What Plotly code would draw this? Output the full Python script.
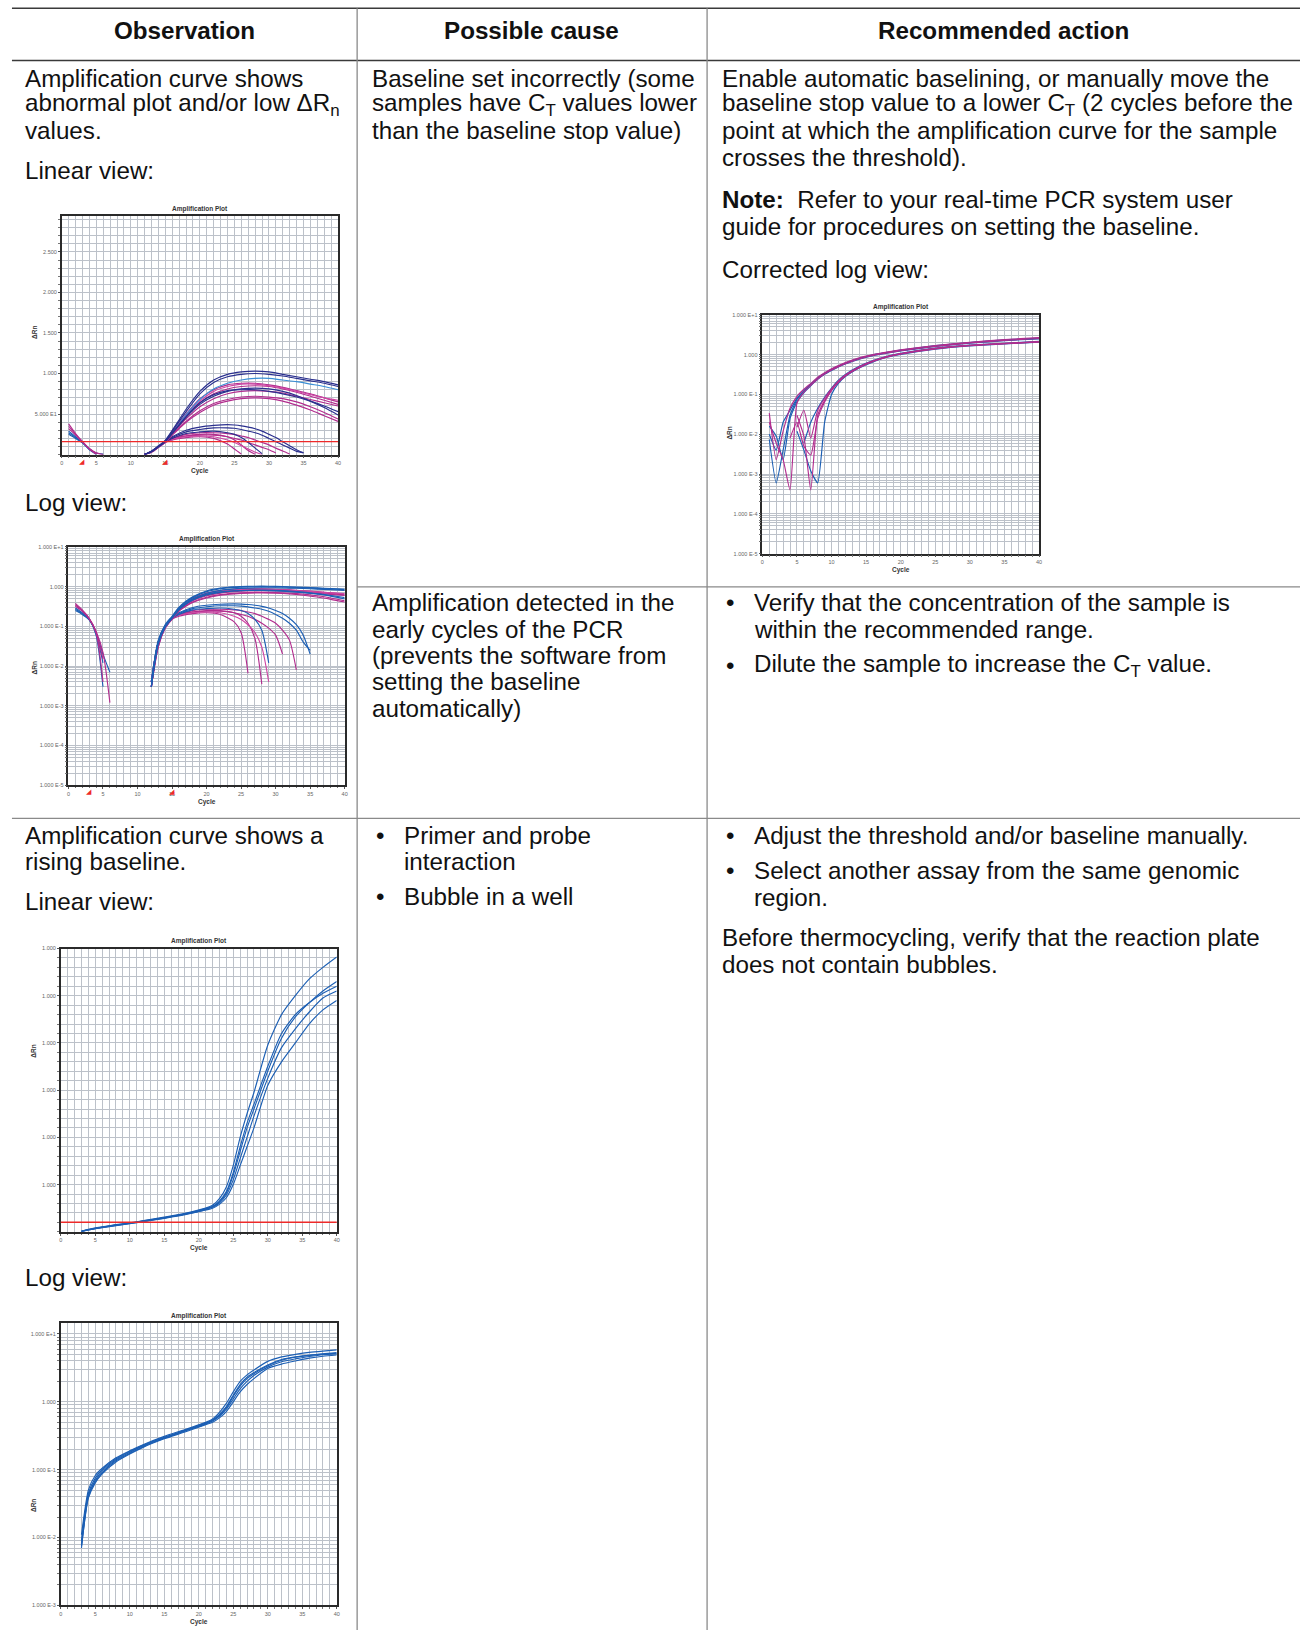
import math
import plotly.graph_objects as go

W, H = 1303, 1633

# ---------------- data ----------------
CYCLE_TICKS = [0, 5, 10, 15, 20, 25, 30, 35, 40]
CYCLE_LABELS = ['0', '5', '10', '15', '20', '25', '30', '35', '40']

LIN1_TICKS = [0.5, 1.0, 1.5, 2.0, 2.5]
LIN1_LABELS = ['5.000 E1', '1.000', '1.500', '2.000', '2.500']

LOG6_TICKS = [1e-5, 1e-4, 1e-3, 1e-2, 1e-1, 1, 10]
LOG6_LABELS = ['1.000 E-5', '1.000 E-4', '1.000 E-3', '1.000 E-2', '1.000 E-1', '1.000', '1.000 E+1']

LIN4_TICKS = [1, 2, 3, 4, 5, 6]
LIN4_LABELS = ['1.000', '1.000', '1.000', '1.000', '1.000', '1.000']

LOG5_TICKS = [1e-3, 1e-2, 1e-1, 1, 10]
LOG5_LABELS = ['1.000 E-3', '1.000 E-2', '1.000 E-1', '1.000', '1.000 E+1']

THRESHOLD_12 = 0.16
THRESHOLD_3 = 0.158
THRESHOLD_45 = 0.2
BASELINE_MARKS = [3, 15]

# charts 1 & 2 : early descending curves
EARLY_CYCLES = [1, 2, 3, 4, 5, 6]
early_blue_1 = [0.27, 0.21, 0.15, 0.065, 0.012]
early_blue_2 = [0.25, 0.20, 0.145, 0.07, 0.02, 0.007]
early_blue_3 = [0.29, 0.22, 0.15, 0.06, 0.003]
early_mag_1 = [0.35, 0.25, 0.16, 0.075, 0.022, 0.0012]
early_mag_2 = [0.32, 0.24, 0.155, 0.07, 0.015]
early_mag_3 = [0.38, 0.26, 0.16, 0.07, 0.004]

# charts 1 & 2 : large amplification curves
RISE_CYCLES = [12, 13, 14, 15, 16, 17, 18, 20, 22, 24, 26, 28, 30, 32, 34, 36, 38, 40]
rise_navy_1 = [0.004, 0.045, 0.11, 0.18, 0.30, 0.43, 0.56, 0.78, 0.92, 0.99, 1.02, 1.03, 1.02, 0.99, 0.96, 0.93, 0.90, 0.86]
rise_navy_2 = [0.003, 0.04, 0.10, 0.17, 0.29, 0.41, 0.53, 0.75, 0.89, 0.96, 0.99, 1.00, 0.99, 0.97, 0.94, 0.91, 0.88, 0.84]
rise_light_1 = [0.003, 0.038, 0.10, 0.165, 0.27, 0.38, 0.49, 0.68, 0.81, 0.88, 0.92, 0.94, 0.94, 0.92, 0.90, 0.87, 0.84, 0.80]
rise_navy_3 = [0.003, 0.035, 0.095, 0.16, 0.26, 0.36, 0.46, 0.62, 0.72, 0.78, 0.81, 0.82, 0.81, 0.78, 0.73, 0.66, 0.58, 0.49]
rise_navy_4 = [0.004, 0.04, 0.10, 0.165, 0.27, 0.37, 0.47, 0.64, 0.74, 0.79, 0.80, 0.80, 0.78, 0.75, 0.71, 0.66, 0.60, 0.53]
rise_mag_1 = [0.004, 0.04, 0.10, 0.17, 0.28, 0.39, 0.50, 0.69, 0.80, 0.86, 0.88, 0.88, 0.86, 0.83, 0.79, 0.75, 0.70, 0.65]
rise_mag_2 = [0.003, 0.038, 0.10, 0.165, 0.27, 0.37, 0.47, 0.64, 0.75, 0.81, 0.84, 0.85, 0.84, 0.81, 0.77, 0.72, 0.67, 0.62]
rise_mag_3 = [0.003, 0.035, 0.095, 0.16, 0.26, 0.35, 0.44, 0.59, 0.69, 0.75, 0.78, 0.79, 0.78, 0.76, 0.72, 0.68, 0.64, 0.60]
rise_mag_4 = [0.003, 0.033, 0.09, 0.155, 0.25, 0.33, 0.41, 0.54, 0.63, 0.68, 0.71, 0.72, 0.71, 0.69, 0.65, 0.59, 0.52, 0.44]
rise_mag_5 = [0.003, 0.03, 0.09, 0.15, 0.24, 0.32, 0.40, 0.52, 0.61, 0.66, 0.69, 0.70, 0.69, 0.66, 0.61, 0.55, 0.48, 0.41]
rise_pink_1 = [0.004, 0.04, 0.10, 0.165, 0.27, 0.38, 0.48, 0.66, 0.78, 0.84, 0.87, 0.87, 0.85, 0.82, 0.78, 0.74, 0.70, 0.67]

# charts 1 & 2 : low humped curves that fall back to zero
HUMP_CYCLES = [12, 13, 14, 15, 16, 18, 20, 22, 24, 25, 26, 27, 28, 29, 30, 31, 32, 33, 34, 35]
hump_navy_1 = [0.004, 0.04, 0.10, 0.165, 0.22, 0.30, 0.34, 0.36, 0.37, 0.365, 0.355, 0.34, 0.32, 0.29, 0.25, 0.21, 0.16, 0.11, 0.06, 0.02]
hump_navy_2 = [0.004, 0.04, 0.10, 0.16, 0.21, 0.28, 0.31, 0.33, 0.33, 0.325, 0.31, 0.29, 0.27, 0.24, 0.20, 0.16, 0.12, 0.08, 0.04, 0.025]
hump_navy_3 = [0.003, 0.035, 0.095, 0.16, 0.20, 0.26, 0.28, 0.29, 0.27, 0.25, 0.21, 0.15, 0.08, 0.012]
hump_mag_1 = [0.004, 0.04, 0.10, 0.16, 0.20, 0.25, 0.27, 0.27, 0.26, 0.25, 0.23, 0.21, 0.18, 0.15, 0.12, 0.08, 0.045, 0.008]
hump_mag_2 = [0.003, 0.035, 0.095, 0.155, 0.19, 0.23, 0.25, 0.25, 0.22, 0.18, 0.12, 0.05, 0.0035]
hump_mag_3 = [0.003, 0.03, 0.09, 0.15, 0.18, 0.21, 0.22, 0.20, 0.13, 0.07, 0.0066]
hump_mag_4 = [0.004, 0.04, 0.10, 0.16, 0.20, 0.23, 0.24, 0.24, 0.22, 0.20, 0.18, 0.15, 0.12, 0.09, 0.06, 0.02]
hump_pink_1 = [0.003, 0.035, 0.095, 0.155, 0.19, 0.22, 0.23, 0.22, 0.18, 0.15, 0.11, 0.07, 0.03, 0.004]

# chart 3 : corrected log view
CORR_CYCLES = [1, 2, 3, 4, 5, 6, 7, 8, 9, 10, 11, 12, 14, 16, 18, 20, 25, 30, 35, 40]
corr_blue_1 = [0.0074, 0.0006, 0.004, 0.03, 0.075, 0.12, 0.18, 0.25, 0.33, 0.42, 0.51, 0.61, 0.80, 0.98, 1.13, 1.28, 1.65, 2.0, 2.3, 2.6]
corr_mag_1 = [0.034, 0.0023, 0.012, 0.045, 0.09, 0.135, 0.19, 0.27, 0.35, 0.44, 0.53, 0.63, 0.83, 1.0, 1.16, 1.32, 1.7, 2.05, 2.4, 2.7]
corr_blue_2 = [0.016, 0.009, 0.0023, 0.025, 0.065, 0.11, 0.165, 0.24, 0.32, 0.40, 0.49, 0.58, 0.77, 0.94, 1.09, 1.24, 1.6, 1.95, 2.25, 2.5]
corr_mag_2 = [0.02, 0.006, 0.0023, 0.0004, 0.06, 0.115, 0.17, 0.245, 0.325, 0.41, 0.50, 0.59, 0.78, 0.95, 1.10, 1.25, 1.62, 1.97, 2.28, 2.55]
corr_blue_3 = [0.01, 0.004, 0.02, 0.04, 0.08, 0.125, 0.18, 0.26, 0.34, 0.43, 0.52, 0.62, 0.81, 0.99, 1.14, 1.30, 1.68, 2.02, 2.35, 2.62]
late_mag_1 = [None, None, None, None, 0.03, 0.009, 0.0004, 0.03, 0.07, 0.13, 0.21, 0.30, 0.48, 0.68, 0.88, 1.05, 1.42, 1.70, 1.90, 2.10]
late_blue_1 = [None, None, None, None, 0.012, 0.004, 0.0012, 0.0006, 0.02, 0.10, 0.19, 0.28, 0.46, 0.66, 0.86, 1.02, 1.38, 1.66, 1.86, 2.05]
late_mag_2 = [None, None, None, 0.008, 0.02, 0.005, 0.003, 0.025, 0.065, 0.125, 0.20, 0.29, 0.47, 0.67, 0.87, 1.04, 1.40, 1.68, 1.88, 2.08]
late_mag_3 = [None, None, None, None, 0.015, 0.04, 0.008, 0.04, 0.08, 0.14, 0.22, 0.31, 0.50, 0.70, 0.90, 1.07, 1.45, 1.72, 1.92, 2.12]
late_blue_2 = [None, None, None, None, None, 0.006, 0.02, 0.045, 0.085, 0.145, 0.23, 0.32, 0.51, 0.71, 0.91, 1.08, 1.46, 1.74, 1.94, 2.15]

# charts 4 & 5 : rising baseline
DRIFT_CYCLES = [3, 4, 5, 6, 8, 10, 12, 15, 18, 21, 22, 23, 24, 25, 26, 27, 28, 30, 32, 34, 36, 38, 40]
drift_1 = [0.011, 0.05, 0.082, 0.105, 0.15, 0.19, 0.235, 0.31, 0.39, 0.50, 0.56, 0.70, 0.95, 1.40, 2.00, 2.50, 2.95, 3.95, 4.60, 5.00, 5.35, 5.60, 5.82]
drift_2 = [0.009, 0.045, 0.075, 0.10, 0.145, 0.185, 0.23, 0.30, 0.38, 0.49, 0.54, 0.65, 0.85, 1.25, 1.80, 2.30, 2.70, 3.50, 4.20, 4.60, 4.85, 5.05, 5.20]
drift_3 = [0.008, 0.042, 0.07, 0.095, 0.14, 0.18, 0.225, 0.295, 0.375, 0.48, 0.53, 0.63, 0.82, 1.20, 1.70, 2.20, 2.60, 3.40, 4.10, 4.55, 4.85, 5.10, 5.30]
drift_4 = [0.007, 0.04, 0.067, 0.09, 0.135, 0.175, 0.22, 0.29, 0.37, 0.47, 0.52, 0.61, 0.78, 1.10, 1.55, 2.00, 2.45, 3.25, 3.90, 4.30, 4.65, 4.95, 5.10]
drift_5 = [0.0075, 0.038, 0.064, 0.087, 0.13, 0.17, 0.215, 0.285, 0.36, 0.46, 0.50, 0.58, 0.72, 1.00, 1.40, 1.80, 2.20, 3.10, 3.60, 4.00, 4.40, 4.70, 4.90]

# ---------------- styling ----------------
NAVY = '#2a2f8e'
BLUE = '#1c5fb4'
LIGHT = '#3a8fd6'
MAG = '#b22d8e'
PINK = '#cf46a4'
GRID = '#bcc1c9'
FRAME = '#2a2a2a'
RED = '#ee2a2a'
FONT = 'Liberation Sans, Arial, sans-serif'


def fx(x):
    return x / W


def fy(y):
    return 1 - y / H


def sfx(n):
    return '' if n == 1 else str(n)


fig = go.Figure()


def add_curves(n, cycles, series, color, smoothing=0.7):
    for vals in series:
        fig.add_trace(go.Scatter(
            x=cycles[:len(vals)], y=vals, mode='lines',
            line=dict(color=color, width=1.15, shape='spline', smoothing=smoothing),
            xaxis='x' + sfx(n), yaxis='y' + sfx(n), hoverinfo='skip', connectgaps=False))


for n in (1, 2):
    add_curves(n, EARLY_CYCLES, [early_blue_1, early_blue_2, early_blue_3], BLUE)
    add_curves(n, EARLY_CYCLES, [early_mag_1, early_mag_2, early_mag_3], MAG)
    add_curves(n, HUMP_CYCLES, [hump_mag_1, hump_mag_2, hump_mag_3, hump_mag_4], MAG)
    add_curves(n, HUMP_CYCLES, [hump_pink_1], PINK)
    add_curves(n, HUMP_CYCLES, [hump_navy_1, hump_navy_2, hump_navy_3], NAVY if n == 1 else BLUE)
    add_curves(n, RISE_CYCLES, [rise_mag_1, rise_mag_2, rise_mag_3, rise_mag_4, rise_mag_5], MAG)
    add_curves(n, RISE_CYCLES, [rise_pink_1], PINK)
    add_curves(n, RISE_CYCLES, [rise_light_1], LIGHT if n == 1 else BLUE)
    add_curves(n, RISE_CYCLES, [rise_navy_1, rise_navy_2, rise_navy_3, rise_navy_4], NAVY if n == 1 else BLUE)

add_curves(3, CORR_CYCLES, [corr_blue_1, corr_blue_2, corr_blue_3, late_blue_1, late_blue_2], BLUE, 0.5)
add_curves(3, CORR_CYCLES, [corr_mag_1, corr_mag_2, late_mag_1, late_mag_2, late_mag_3], MAG, 0.5)

for n in (4, 5):
    add_curves(n, DRIFT_CYCLES, [drift_1, drift_2, drift_3, drift_4, drift_5], BLUE, 0.6)

# ---------------- axes ----------------
CHARTS = {
    1: dict(box=(60, 337.3, 214, 453.3), ytype='linear', yrange=[0, 2.94],
            yticks=LIN1_TICKS, ylabels=LIN1_LABELS, ydt=0.1, thr=THRESHOLD_12,
            ytitle=(33.3, 331)),
    2: dict(box=(66.7, 344, 546, 785), ytype='log', yrange=[-5, 1],
            yticks=LOG6_TICKS, ylabels=LOG6_LABELS, thr=THRESHOLD_12,
            ytitle=(33, 667)),
    3: dict(box=(763.3, 1041, 313, 552.7), ytype='log', yrange=[-5, 1],
            yticks=LOG6_TICKS, ylabels=LOG6_LABELS, thr=THRESHOLD_3,
            ytitle=(730, 432)),
    4: dict(box=(59, 336, 949, 1233.3), ytype='linear', yrange=[0, 6],
            yticks=LIN4_TICKS, ylabels=LIN4_LABELS, ydt=0.2, thr=THRESHOLD_45,
            ytitle=(31.7, 1052)),
    5: dict(box=(59, 336, 1325, 1608.3), ytype='log', yrange=[-3, 1.16],
            yticks=LOG5_TICKS, ylabels=LOG5_LABELS, thr=THRESHOLD_45,
            ytitle=(31.7, 1508)),
}

layout = dict(
    width=W, height=H, margin=dict(l=0, r=0, t=0, b=0),
    paper_bgcolor='white', plot_bgcolor='white', showlegend=False,
    font=dict(family=FONT, color='#111'),
)
shapes = []
annotations = []

for n, c in CHARTS.items():
    l, r, t, b = c['box']
    s = sfx(n)
    xa = dict(
        domain=[fx(l), fx(r)], anchor='y' + s, range=[0, 40],
        tickmode='array', tickvals=CYCLE_TICKS, ticktext=CYCLE_LABELS,
        tickfont=dict(size=5.5, color='#666', family=FONT),
        ticks='outside', ticklen=2, tickwidth=0.8, tickcolor='#555',
        showgrid=True, gridcolor=GRID, gridwidth=1,
        minor=dict(tickmode='linear', tick0=0, dtick=1, showgrid=True,
                   gridcolor=GRID, gridwidth=1, ticks='outside', ticklen=1.5,
                   tickcolor='#777'),
        showline=True, linecolor=FRAME, linewidth=1.6, mirror=True,
        zeroline=False, fixedrange=True)
    ya = dict(
        domain=[fy(b), fy(t)], anchor='x' + s, type=c['ytype'], range=c['yrange'],
        tickmode='array', tickvals=c['yticks'], ticktext=c['ylabels'],
        tickfont=dict(size=5.5, color='#666', family=FONT),
        ticks='outside', ticklen=2, tickwidth=0.8, tickcolor='#555',
        showgrid=True, gridcolor=GRID, gridwidth=1,
        showline=True, linecolor=FRAME, linewidth=1.6, mirror=True,
        zeroline=False, fixedrange=True)
    if c['ytype'] == 'log':
        lo, hi = int(math.floor(c['yrange'][0])), int(math.ceil(c['yrange'][1]))
        minor_vals = [k * 10 ** e for e in range(lo, hi) for k in range(2, 10)]
        ya['minor'] = dict(tickmode='array', tickvals=minor_vals, showgrid=True,
                           gridcolor=GRID, gridwidth=1, ticks='outside', ticklen=1.5,
                           tickcolor='#777')
    else:
        ya['minor'] = dict(tickmode='linear', tick0=0, dtick=c['ydt'], showgrid=True,
                           gridcolor=GRID, gridwidth=1, ticks='outside', ticklen=1.5,
                           tickcolor='#777')
    layout['xaxis' + s] = xa
    layout['yaxis' + s] = ya

    thr = math.log10(c['thr']) if c['ytype'] == 'log' else c['thr']
    shapes.append(dict(type='line', xref='x' + s + ' domain', yref='y' + s,
                       x0=0, x1=1, y0=thr, y1=thr,
                       line=dict(color=RED, width=1.4), layer='above'))

    annotations.append(dict(text='<b>Amplification Plot</b>', xref='paper', yref='paper',
                            x=fx((l + r) / 2), y=fy(t - 1.5), xanchor='center', yanchor='bottom',
                            showarrow=False, font=dict(size=6.5, color='#333', family=FONT)))
    annotations.append(dict(text='<b>Cycle</b>', xref='paper', yref='paper',
                            x=fx((l + r) / 2), y=fy(b + 16.5), xanchor='center', yanchor='middle',
                            showarrow=False, font=dict(size=6.5, color='#333', family=FONT)))
    tx, ty = c['ytitle']
    annotations.append(dict(text='<b>ΔRn</b>', xref='paper', yref='paper',
                            x=fx(tx), y=fy(ty), xanchor='center', yanchor='middle',
                            textangle=-90, showarrow=False,
                            font=dict(size=6.5, color='#333', family=FONT)))

# baseline start / stop markers on charts 1 and 2
for n in (1, 2):
    s = sfx(n)
    for cyc in BASELINE_MARKS:
        annotations.append(dict(text='◢', xref='x' + s, yref='y' + s + ' domain', x=cyc, y=0,
                                xanchor='center', yanchor='top', yshift=-1, showarrow=False,
                                font=dict(size=7, color=RED, family='DejaVu Sans')))


# ---------------- table rules ----------------
def hline(y, x0, x1, color, width):
    shapes.append(dict(type='line', xref='paper', yref='paper', x0=fx(x0), x1=fx(x1),
                       y0=fy(y), y1=fy(y), line=dict(color=color, width=width)))


def vline(x, y0, y1, color, width):
    shapes.append(dict(type='line', xref='paper', yref='paper', x0=fx(x), x1=fx(x),
                       y0=fy(y0), y1=fy(y1), line=dict(color=color, width=width)))


hline(5.2, 10, W, '#3a3a3a', 1.5)
hline(57.8, 10, W, '#3a3a3a', 1.5)
vline(356.5, 5.2, H, '#8a8a8a', 1.3)
vline(707.8, 5.2, H, '#8a8a8a', 1.3)
hline(586, 356.5, W, '#8a8a8a', 1.3)
hline(818.3, 10, W, '#8a8a8a', 1.3)

# ---------------- table text ----------------
TXT = 24.2
DY = -2.5
HEADERS = [(183, 27.5, 'Observation'), (531.5, 27.5, 'Possible cause'), (1005, 27.5, 'Recommended action')]
for x, y, s in HEADERS:
    annotations.append(dict(text=f'<b>{s}</b>', xref='paper', yref='paper', x=fx(x), y=fy(y),
                            xanchor='center', yanchor='middle', showarrow=False,
                            font=dict(size=TXT, color='#111', family=FONT)))

C1, C2, C2B, C3, C3B = 21, 369, 401.5, 720.5, 753
LINES = [
    (C1, 78.2, 'Amplification curve shows'),
    (C1, 104.2, 'abnormal plot and/or low ΔR<sub>n</sub>'),
    (C1, 130.3, 'values.'),
    (C1, 171, 'Linear view:'),
    (C1, 503.5, 'Log view:'),
    (C1, 838.1, 'Amplification curve shows a'),
    (C1, 864.2, 'rising baseline.'),
    (C1, 904.8, 'Linear view:'),
    (C1, 1282.2, 'Log view:'),
    (C2, 78.2, 'Baseline set incorrectly (some'),
    (C2, 104.2, 'samples have C<sub>T</sub> values lower'),
    (C2, 130.3, 'than the baseline stop value)'),
    (C2, 604.6, 'Amplification detected in the'),
    (C2, 631, 'early cycles of the PCR'),
    (C2, 657.8, '(prevents the software from'),
    (C2, 683.8, 'setting the baseline'),
    (C2, 710.9, 'automatically)'),
    (C2B, 838.1, 'Primer and probe'),
    (C2B, 864.2, 'interaction'),
    (C2B, 899.6, 'Bubble in a well'),
    (C3, 78.2, 'Enable automatic baselining, or manually move the'),
    (C3, 104.2, 'baseline stop value to a lower C<sub>T</sub> (2 cycles before the'),
    (C3, 130.3, 'point at which the amplification curve for the sample'),
    (C3, 157.4, 'crosses the threshold).'),
    (C3, 200.1, '<b>Note:</b>\u00a0 Refer to your real-time PCR system user'),
    (C3, 227.2, 'guide for procedures on setting the baseline.'),
    (C3, 270, 'Corrected log view:'),
    (C3B, 604.6, 'Verify that the concentration of the sample is'),
    (C3B, 631, 'within the recommended range.'),
    (C3B, 667.1, 'Dilute the sample to increase the C<sub>T</sub> value.'),
    (C3B, 838.1, 'Adjust the threshold and/or baseline manually.'),
    (C3B, 873.5, 'Select another assay from the same genomic'),
    (C3B, 900.6, 'region.'),
    (C3, 940.2, 'Before thermocycling, verify that the reaction plate'),
    (C3, 967.3, 'does not contain bubbles.'),
]
for x, y, s in LINES:
    annotations.append(dict(text=s, xref='paper', yref='paper', x=fx(x), y=fy(y + DY),
                            xanchor='left', yanchor='middle', showarrow=False,
                            font=dict(size=TXT, color='#111', family=FONT)))

BULLETS = [(379.5, 838.1), (379.5, 899.6), (731, 604.6), (731, 667.1), (731, 838.1), (731, 873.5)]
for x, y in BULLETS:
    annotations.append(dict(text='•', xref='paper', yref='paper', x=fx(x), y=fy(y + DY),
                            xanchor='center', yanchor='middle', showarrow=False,
                            font=dict(size=TXT, color='#111', family=FONT)))

layout['shapes'] = shapes
layout['annotations'] = annotations
fig.update_layout(**layout)
fig.write_html('out.html', config={'displayModeBar': False},
               post_script="document.body.style.margin='0';document.body.style.padding='0';"
                           "document.body.style.overflow='hidden';"
                           "document.documentElement.style.overflow='hidden';")
